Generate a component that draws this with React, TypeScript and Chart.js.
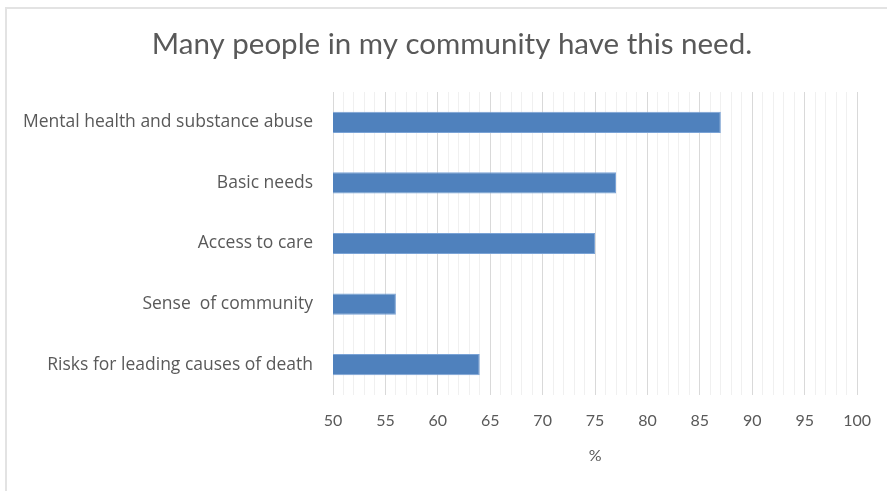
import React, { useEffect, useRef } from "react";
import { Chart, registerables } from "chart.js";

Chart.register(...registerables);

const categories = [
  "Mental health and substance abuse",
  "Basic needs",
  "Access to care",
  "Sense  of community",
  "Risks for leading causes of death",
];
const values = [87, 77, 75, 56, 64];
const xMin = 50;
const xMax = 100;
const titleText = "Many people in my community have this need.";
const xTitle = "%";

const FONT = "Lato, 'Open Sans', sans-serif";
const LABEL_FONT = "'Open Sans', Lato, sans-serif";
const TEXT = "#595959";

const titlePlugin = {
  id: "centredTitle",
  afterDraw(chart: any) {
    const ctx = chart.ctx;
    ctx.save();
    ctx.font = `normal 29.5px ${FONT}`;
    ctx.fillStyle = TEXT;
    ctx.textAlign = "center";
    ctx.textBaseline = "middle";
    ctx.fillText(titleText, 452, 44);
    ctx.restore();
  },
};

export default function App() {
  const ref = useRef<HTMLCanvasElement | null>(null);

  useEffect(() => {
    document.body.style.margin = "0";
    const canvas = ref.current!;
    const chart = new Chart(canvas, {
      type: "bar",
      data: {
        labels: categories,
        datasets: [
          {
            data: values,
            backgroundColor: "#4f81bd",
            borderColor: "#7aa3d6",
            borderWidth: 1,
            borderSkipped: false,
            categoryPercentage: 1,
            barPercentage: 0.35,
          },
        ],
      },
      plugins: [titlePlugin],
      options: {
        indexAxis: "y",
        animation: false,
        responsive: false,
        maintainAspectRatio: false,
        layout: { padding: { left: 0, right: 29, top: 92, bottom: 0 } },
        plugins: {
          legend: { display: false },
          tooltip: { enabled: false },
          title: { display: false },
        },
        scales: {
          x: {
            min: xMin,
            max: xMax,
            afterFit: (s: any) => {
              s.height = 96;
            },
            border: { display: false },
            grid: {
              drawTicks: false,
              color: (c: any) =>
                c.tick && c.tick.value % 5 === 0 ? "#d9d9d9" : "#f0f0f0",
              lineWidth: 1,
            },
            ticks: {
              stepSize: 1,
              autoSkip: false,
              maxRotation: 0,
              padding: 16,
              color: TEXT,
              font: { family: FONT, size: 16 },
              callback: (v: any) => (Number(v) % 5 === 0 ? String(v) : ""),
            },
            title: {
              display: true,
              text: xTitle,
              color: TEXT,
              font: { family: FONT, size: 16 },
              padding: { top: 0, bottom: 26 },
            },
          },
          y: {
            afterFit: (s: any) => {
              s.width = 333;
            },
            border: { display: false },
            grid: { display: false, drawTicks: false },
            ticks: {
              padding: 20,
              color: TEXT,
              font: { family: LABEL_FONT, size: 17.5 },
            },
          },
        },
      },
    });
    return () => chart.destroy();
  }, []);

  return (
    <div style={{ position: "fixed", left: 0, top: 0, width: 887, height: 491, background: "#fff", overflow: "hidden" }}>
      <div
        style={{
          position: "absolute",
          left: 5,
          top: 7,
          width: 1000,
          height: 1000,
          border: "2px solid #e3e3e3",
          boxSizing: "border-box",
        }}
      />
      <canvas ref={ref} width={887} height={491} style={{ position: "absolute", left: 0, top: 0, width: 887, height: 491 }} />
    </div>
  );
}
